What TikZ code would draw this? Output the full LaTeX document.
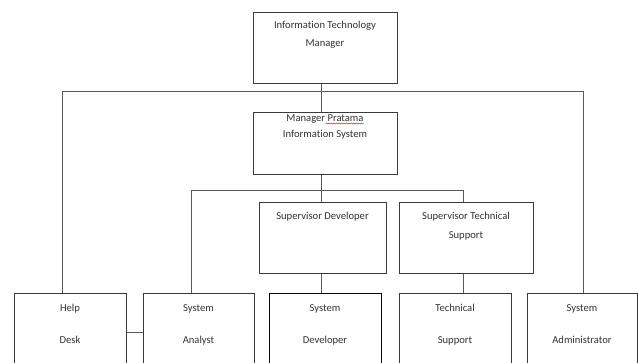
\documentclass[tikz,border=0pt]{standalone}
\usepackage{fontspec}
\setmainfont[Ligatures=NoCommon]{Carlito}
\usetikzlibrary{decorations.pathmorphing,calc}
\definecolor{boxline}{HTML}{3A3A3A}
\definecolor{wire}{HTML}{5A5A5A}
\definecolor{ink}{HTML}{333333}
\tikzset{
  unit/.style={draw=boxline, line width=1.1pt, fill=white, inner sep=0pt, anchor=north west},
  lbl/.style={text=ink, font=\fontsize{10.6}{18}\selectfont, align=center, inner sep=0pt, anchor=base},
  wireline/.style={draw=wire, line width=0.8pt},
}
\begin{document}
\begin{tikzpicture}[x=1pt, y=-1pt]
  \path[fill=white] (0,0) rectangle (639,362);
  \useasboundingbox (0,0) rectangle (639,362);
  \clip (0,0) rectangle (639,362);

  % management boxes
  \node[unit, minimum width=144pt, minimum height=71pt] (itm) at (253,12) {};
  \node[unit, minimum width=144pt, minimum height=62pt] (mpis) at (253,112) {};
  \node[unit, minimum width=127pt, minimum height=71pt] (supdev) at (259,202) {};
  \node[unit, minimum width=134pt, minimum height=71pt] (supts) at (399,202) {};

  % staff boxes (run off the lower edge)
  \node[unit, minimum width=112pt, minimum height=100pt] (help) at (14,293) {};
  \node[unit, minimum width=111pt, minimum height=100pt] (analyst) at (143,293) {};
  \node[unit, minimum width=112pt, minimum height=100pt, draw=black!80!blue, line width=1.4pt] (dev) at (269,293) {};
  \node[unit, minimum width=112pt, minimum height=100pt] (tech) at (399,293) {};
  \node[unit, minimum width=110pt, minimum height=100pt] (admin) at (527,293) {};

  % labels
  \node[lbl] (itmA) at (325,28) {Information Technology};
  \node[lbl] (itmB) at (325,46) {Manager};
  \node[lbl] (mpisA) at (325,121) {Manager Pratama};
  \node[lbl] (mpisB) at (325,137) {Information System};
  \node[lbl] (supdevA) at (322.5,219) {Supervisor Developer};
  \node[lbl] (suptsA) at (466,219) {Supervisor Technical};
  \node[lbl] (suptsB) at (466,238) {Support};
  \node[lbl] (helpA) at (70,311) {Help};
  \node[lbl] (helpB) at (70,343) {Desk};
  \node[lbl] (analystA) at (198.5,311) {System};
  \node[lbl] (analystB) at (198.5,343) {Analyst};
  \node[lbl] (devA) at (325,311) {System};
  \node[lbl] (devB) at (325,343) {Developer};
  \node[lbl] (techA) at (455,311) {Technical};
  \node[lbl] (techB) at (455,343) {Support};
  \node[lbl] (adminA) at (582,311) {System};
  \node[lbl] (adminB) at (582,343) {Administrator};

  % spell-check squiggle under "Pratama"
  \draw[red!80!black, line width=0.5pt, decorate,
        decoration={snake, amplitude=0.6pt, segment length=2.5pt}]
    ($(mpisA.base east)+(-38,2.5)$) -- ($(mpisA.base east)+(0,2.5)$);

  % bus junctions
  \coordinate (busA) at (321,91);
  \coordinate (busB) at (321,190);
  \coordinate (busAl) at (62,91);
  \coordinate (busAr) at (583,91);
  \coordinate (busBl) at (191,190);
  \coordinate (busBr) at (463,190);

  % connectors
  \draw[wireline] (itm.south -| busA) -- (mpis.north -| busA);
  \draw[wireline] (busAl) -- (busAr);
  \draw[wireline] (busAl) -- (busAl |- help.north);
  \draw[wireline] (busAr) -- (busAr |- admin.north);
  \draw[wireline] (mpis.south -| busB) -- (supdev.north -| busB);
  \draw[wireline] (busBl) -- (busBr);
  \draw[wireline] (busBl) -- (busBl |- analyst.north);
  \draw[wireline] (busBr) -- (busBr |- supts.north);
  \draw[wireline] (supdev.south -| busB) -- (dev.north -| busB);
  \draw[wireline] (supts.south -| busBr) -- (tech.north -| busBr);
  \draw[wireline] (help.east |- 0,332) -- (analyst.west |- 0,332);
\end{tikzpicture}
\end{document}
